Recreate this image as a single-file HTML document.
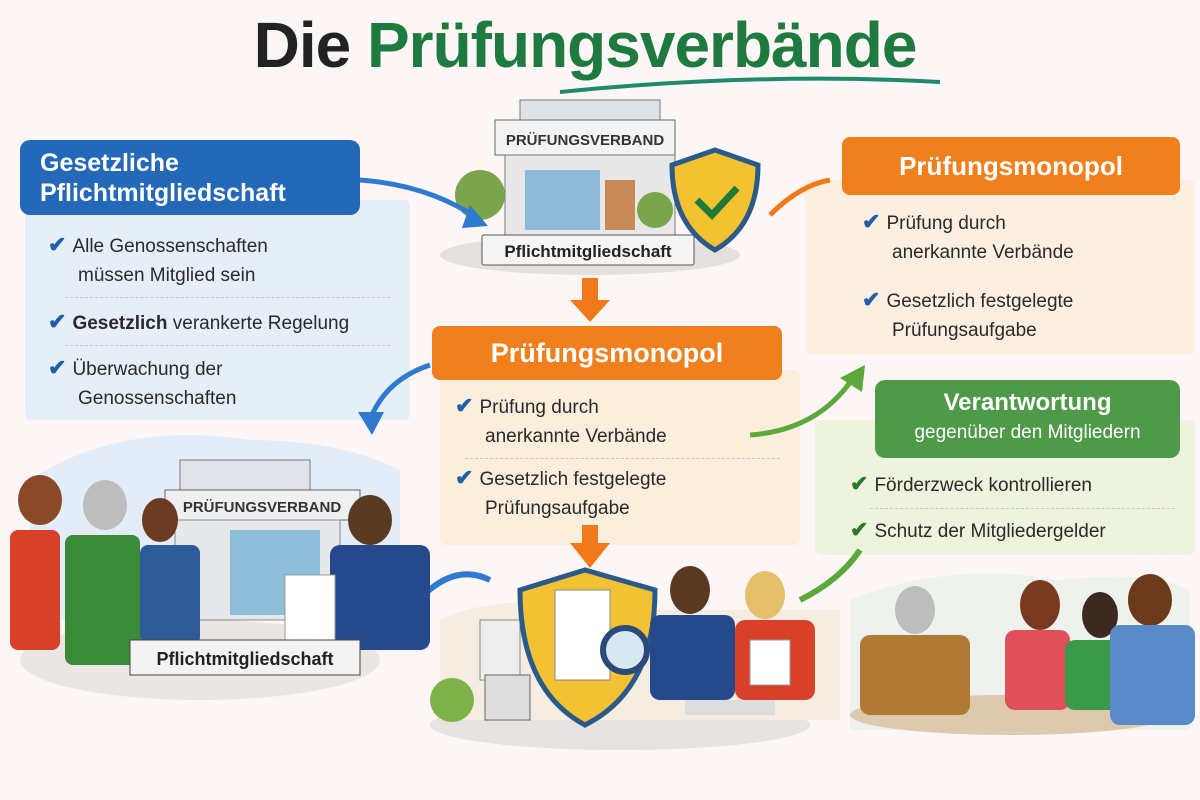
<!DOCTYPE html>
<html><head><meta charset="utf-8"><style>
*{margin:0;padding:0;box-sizing:border-box}
body{width:1200px;height:800px;background:#fcf7f6;position:relative;overflow:hidden;font-family:"Liberation Sans",sans-serif}
.a{position:absolute}
.t{font-family:"Liberation Sans Narrow","Liberation Sans",sans-serif;color:#2a2a2a;font-size:19px;line-height:29px}
.ck{font-weight:bold;color:#1f5fa8;font-size:22px;margin-right:6px}
.sep{border-top:1px dashed #c8c8c8}
</style></head><body>
<svg class="a" style="left:0;top:0" width="1200" height="800">
<rect x="25" y="200" width="385" height="220" fill="#e6eef8" rx="6"/>
<rect x="440" y="370" width="360" height="175" fill="#fbeedd" rx="6"/>
<rect x="805" y="180" width="390" height="175" fill="#fcefe2" rx="6"/>
<rect x="815" y="420" width="380" height="135" fill="#eef3dd" rx="6"/>
<path d="M560 92 Q760 72 940 82" stroke="#1f8a6a" stroke-width="4" fill="none"/>
<ellipse cx="590" cy="255" rx="150" ry="20" fill="#e4e1dc"/>
<rect x="520" y="100" width="140" height="35" fill="#dfe3e6" stroke="#777"/>
<rect x="495" y="120" width="180" height="35" fill="#f3f3f3" stroke="#666"/>
<text x="585" y="145" text-anchor="middle" font-size="15" font-weight="bold" fill="#333" font-family="Liberation Sans">PRÜFUNGSVERBAND</text>
<rect x="505" y="155" width="170" height="80" fill="#e8e8e8" stroke="#777"/>
<rect x="525" y="170" width="75" height="60" fill="#8fbbd6"/>
<rect x="605" y="180" width="30" height="50" fill="#c98a5a"/>
<circle cx="480" cy="195" r="25" fill="#7aa54a"/>
<circle cx="655" cy="210" r="18" fill="#7aa54a"/>
<path d="M672 165 L715 150 L758 165 Q758 225 715 250 Q672 225 672 165Z" fill="#f2c230" stroke="#2a5a8a" stroke-width="5"/>
<path d="M697 200 L712 215 L737 188" stroke="#1f7a3a" stroke-width="7" fill="none"/>
<rect x="482" y="235" width="212" height="30" fill="#f5f5f5" stroke="#555" rx="2"/>
<text x="588" y="257" text-anchor="middle" font-size="17" font-weight="bold" fill="#222" font-family="Liberation Sans">Pflichtmitgliedschaft</text>
<path d="M360 180 Q430 185 480 220" stroke="#2f7ad0" stroke-width="5" fill="none"/>
<path d="M470 205 L488 226 L462 228Z" fill="#2f7ad0"/>
<rect x="582" y="278" width="16" height="25" fill="#f07a1a"/><path d="M570 300 L610 300 L590 322Z" fill="#f07a1a"/>
<path d="M770 215 Q800 185 830 180" stroke="#f07a1a" stroke-width="5" fill="none"/>
<path d="M430 365 Q385 380 370 420" stroke="#2f7ad0" stroke-width="5" fill="none"/>
<path d="M358 412 L372 435 L384 412Z" fill="#2f7ad0"/>
<path d="M750 435 Q820 430 855 375" stroke="#5ca83a" stroke-width="5" fill="none"/>
<path d="M840 378 L865 365 L862 392Z" fill="#5ca83a"/>
<rect x="582" y="525" width="16" height="20" fill="#f07a1a"/><path d="M570 543 L610 543 L590 568Z" fill="#f07a1a"/>
<path d="M410 610 Q450 560 490 580" stroke="#2f7ad0" stroke-width="6" fill="none"/>
<path d="M800 600 Q840 580 860 550" stroke="#5ca83a" stroke-width="6" fill="none"/>
<ellipse cx="200" cy="660" rx="180" ry="40" fill="#e9e6e4"/>
<path d="M30 480 Q120 420 250 440 Q340 440 400 470 L400 620 L30 620Z" fill="#e4edf7"/>
<rect x="180" y="460" width="130" height="40" fill="#e0e3e7" stroke="#778"/>
<rect x="165" y="490" width="195" height="30" fill="#f0f0f0" stroke="#666"/>
<text x="262" y="512" text-anchor="middle" font-size="15" font-weight="bold" fill="#333" font-family="Liberation Sans">PRÜFUNGSVERBAND</text>
<rect x="175" y="520" width="165" height="100" fill="#e6e8ea" stroke="#888"/>
<rect x="230" y="530" width="90" height="85" fill="#8fbed8"/>
<ellipse cx="40" cy="500" rx="22" ry="25" fill="#8a4a2a"/><rect x="10" y="530" width="50" height="120" fill="#d8402a" rx="8"/>
<ellipse cx="105" cy="505" rx="22" ry="25" fill="#bdbdbd"/><rect x="65" y="535" width="75" height="130" fill="#3a8a3a" rx="8"/>
<ellipse cx="160" cy="520" rx="18" ry="22" fill="#6a3a22"/><rect x="140" y="545" width="60" height="100" fill="#2f5a98" rx="8"/>
<ellipse cx="370" cy="520" rx="22" ry="25" fill="#5a3a22"/><rect x="330" y="545" width="100" height="105" fill="#25498a" rx="10"/>
<rect x="285" y="575" width="50" height="65" fill="#fff" stroke="#999"/>
<rect x="130" y="640" width="230" height="35" fill="#f3f3f3" stroke="#444"/>
<text x="245" y="665" text-anchor="middle" font-size="18" font-weight="bold" fill="#222" font-family="Liberation Sans">Pflichtmitgliedschaft</text>
<ellipse cx="620" cy="725" rx="190" ry="25" fill="#e7e3e0"/>
<path d="M440 620 Q500 590 620 610 L840 610 L840 720 L440 720Z" fill="#f5ece2"/>
<circle cx="452" cy="700" r="22" fill="#7fb24a"/>
<rect x="480" y="620" width="40" height="60" fill="#eee" stroke="#888"/>
<rect x="485" y="675" width="45" height="45" fill="#ddd" stroke="#666"/>
<path d="M520 590 L585 570 L655 590 Q655 690 585 725 Q520 690 520 590Z" fill="#f3c234" stroke="#2a5a8a" stroke-width="5"/>
<rect x="555" y="590" width="55" height="90" fill="#fff" stroke="#888"/>
<circle cx="625" cy="650" r="22" fill="#d8e8f2" stroke="#2a4a7a" stroke-width="6"/>
<rect x="685" y="700" width="90" height="15" fill="#ddd"/>
<ellipse cx="690" cy="590" rx="20" ry="24" fill="#5a3a22"/><rect x="650" y="615" width="85" height="85" fill="#25498a" rx="10"/>
<ellipse cx="765" cy="595" rx="20" ry="24" fill="#e5c06a"/><rect x="735" y="620" width="80" height="80" fill="#d8402a" rx="10"/>
<rect x="750" y="640" width="40" height="45" fill="#fff" stroke="#999"/>
<path d="M850 600 Q950 560 1060 580 Q1150 570 1190 590 L1190 730 L850 730Z" fill="#eef2ee"/>
<ellipse cx="1010" cy="715" rx="160" ry="20" fill="#dcc9ae"/>
<ellipse cx="915" cy="610" rx="20" ry="24" fill="#bdbdbd"/><rect x="860" y="635" width="110" height="80" fill="#b07a36" rx="10"/>
<ellipse cx="1040" cy="605" rx="20" ry="25" fill="#7a3a22"/><rect x="1005" y="630" width="65" height="80" fill="#e0505a" rx="10"/>
<ellipse cx="1100" cy="615" rx="18" ry="23" fill="#3a2a22"/><rect x="1065" y="640" width="60" height="70" fill="#3a9a4a" rx="10"/>
<ellipse cx="1150" cy="600" rx="22" ry="26" fill="#6a3a1a"/><rect x="1110" y="625" width="85" height="100" fill="#5a8ac8" rx="10"/>
</svg>
<div class="a" style="left:0;top:8px;width:1170px;text-align:center;font-size:64px;font-weight:bold;letter-spacing:-1px"><span style="color:#222">Die </span><span style="color:#1e7a3e">Prüfungsverbände</span></div>

<div class="a" style="left:20px;top:140px;width:340px;height:75px;background:#2468b8;border-radius:10px;color:#fff;font-size:25px;font-weight:bold;line-height:30px;padding:8px 20px">Gesetzliche<br>Pflichtmitgliedschaft</div>
<div class="a t" style="left:48px;top:230px;width:340px"><span class="ck">✔</span>Alle Genossenschaften<br><span style="margin-left:30px">müssen Mitglied sein</span></div>
<div class="a sep" style="left:65px;top:297px;width:325px"></div>
<div class="a t" style="left:48px;top:307px"><span class="ck">✔</span><b>Gesetzlich</b> verankerte Regelung</div>
<div class="a sep" style="left:65px;top:345px;width:325px"></div>
<div class="a t" style="left:48px;top:353px"><span class="ck">✔</span>Überwachung der<br><span style="margin-left:30px">Genossenschaften</span></div>

<div class="a" style="left:432px;top:326px;width:350px;height:54px;background:#f07f1e;border-radius:8px;color:#fff;font-size:27px;font-weight:bold;text-align:center;line-height:54px">Prüfungsmonopol</div>
<div class="a t" style="left:455px;top:391px"><span class="ck">✔</span>Prüfung durch<br><span style="margin-left:30px">anerkannte Verbände</span></div>
<div class="a sep" style="left:465px;top:458px;width:315px"></div>
<div class="a t" style="left:455px;top:463px"><span class="ck">✔</span>Gesetzlich festgelegte<br><span style="margin-left:30px">Prüfungsaufgabe</span></div>

<div class="a" style="left:842px;top:137px;width:338px;height:58px;background:#f07f1e;border-radius:8px;color:#fff;font-size:26px;font-weight:bold;text-align:center;line-height:58px">Prüfungsmonopol</div>
<div class="a t" style="left:862px;top:207px"><span class="ck">✔</span>Prüfung durch<br><span style="margin-left:30px">anerkannte Verbände</span></div>
<div class="a t" style="left:862px;top:285px"><span class="ck">✔</span>Gesetzlich festgelegte<br><span style="margin-left:30px">Prüfungsaufgabe</span></div>

<div class="a" style="left:875px;top:380px;width:305px;height:78px;background:#4e9a48;border-radius:10px;color:#fff;text-align:center;padding-top:8px"><div style="font-size:24px;font-weight:bold;line-height:30px">Verantwortung</div><div style="font-size:19px;line-height:30px">gegenüber den Mitgliedern</div></div>
<div class="a t" style="left:850px;top:469px"><span class="ck" style="color:#2a7a2a">✔</span>Förderzweck kontrollieren</div>
<div class="a sep" style="left:870px;top:508px;width:305px"></div>
<div class="a t" style="left:850px;top:515px"><span class="ck" style="color:#2a7a2a">✔</span>Schutz der Mitgliedergelder</div>
</body></html>
